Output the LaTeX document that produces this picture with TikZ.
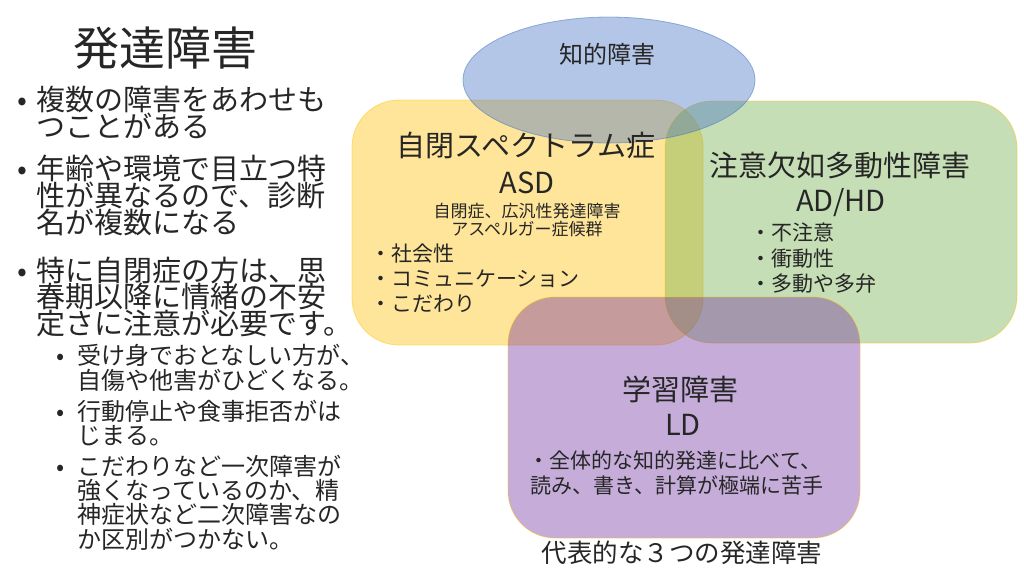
\documentclass[tikz,border=0pt]{standalone}
\usepackage{fontspec}
\setmainfont{Noto Sans CJK JP}
\usetikzlibrary{shapes.geometric}
\definecolor{txtc}{HTML}{262626}
\definecolor{ylw}{HTML}{FFC000}
\definecolor{grn}{HTML}{70AD47}
\definecolor{blu}{HTML}{4472C4}
\definecolor{prp}{HTML}{7030A0}
\tikzset{
  lt/.style={inner sep=0, anchor=west, text=txtc},
  ct/.style={inner sep=0, text=txtc},
  fA/.style={font=\fontsize{46}{46}\selectfont, text height=35pt, text depth=0pt},
  fB/.style={font=\fontsize{29}{29}\selectfont, text height=22pt, text depth=0pt},
  fC/.style={font=\fontsize{24}{24}\selectfont, text height=18.2pt, text depth=0pt},
  fD/.style={font=\fontsize{29}{29}\selectfont, text height=22pt, text depth=0pt},
  fE/.style={font=\fontsize{21}{21}\selectfont, text height=16pt, text depth=0pt},
  fF/.style={font=\fontsize{17}{17}\selectfont, text height=12.9pt, text depth=0pt},
  fG/.style={font=\fontsize{25.5}{25.5}\selectfont, text height=19.4pt, text depth=0pt},
  boxshape/.style={draw=ylw, draw opacity=0.45, line width=0.8pt, fill opacity=0.4, rounded corners=47pt, minimum width=#1, inner sep=0},
}
\begin{document}
\begin{tikzpicture}[x=1pt,y=-1pt]
\useasboundingbox[fill=white] (0,0) rectangle (1024,573);
% shapes
\node[boxshape=351pt, fill=ylw, minimum height=245pt] (asd) at (527.5,222.5) {};
\node[boxshape=352pt, fill=grn, minimum height=242pt] (adhd) at (841,222) {};
\node[ellipse, draw=blu, draw opacity=0.5, line width=0.8pt, fill=blu, fill opacity=0.4, minimum width=292pt, minimum height=126pt, inner sep=0] (id) at (609,80) {};
\node[boxshape=352pt, fill=prp, minimum height=241pt] (ld) at (684,417.5) {};
% left text
\node[ct, fA] (title) at (165,48) {発達障害};
\begin{scope}[every node/.append style={fB}]
\node[ct] (b1) at (22,99) {•};
\node[lt] (b1a) at (36,99) {複数の障害をあわせも};
\node[lt] (b1b) at (36,126.5) {つことがある};
\node[ct] (b2) at (22,168) {•};
\node[lt] (b2a) at (36,168) {年齢や環境で目立つ特};
\node[lt] (b2b) at (36,195) {性が異なるので、診断};
\node[lt] (b2c) at (36,222) {名が複数になる};
\node[ct] (b3) at (22,270) {•};
\node[lt] (b3a) at (36,270) {特に自閉症の方は、思};
\node[lt] (b3b) at (36,296.5) {春期以降に情緒の不安};
\node[lt] (b3c) at (36,323) {定さに注意が必要です。};
\end{scope}
\begin{scope}[every node/.append style={fC}]
\node[ct] (s1) at (61,355) {•};
\node[lt] (s1a) at (77,355) {受け身でおとなしい方が、};
\node[lt] (s1b) at (77,380) {自傷や他害がひどくなる。};
\node[ct] (s2) at (61,411) {•};
\node[lt] (s2a) at (77,411) {行動停止や食事拒否がは};
\node[lt] (s2b) at (77,435) {じまる。};
\node[ct] (s3) at (61,466) {•};
\node[lt] (s3a) at (77,466) {こだわりなど一次障害が};
\node[lt] (s3b) at (77,490) {強くなっているのか、精};
\node[lt] (s3c) at (77,514) {神症状など二次障害なの};
\node[lt] (s3d) at (77,539) {か区別がつかない。};
\end{scope}
% diagram text
\node[ct, fC] (idt) at (607,54) {知的障害};
\node[ct, fD] (asdt) at (526,145) {自閉スペクトラム症};
\node[ct, fD] (asde) at (527,182) {ASD};
\node[ct, fF] (asds1) at (527,211) {自閉症、広汎性発達障害};
\node[ct, fF] (asds2) at (527,229) {アスペルガー症候群};
\node[lt, fE] (asdl1) at (370,253) {・社会性};
\node[lt, fE] (asdl2) at (370,278) {・コミュニケーション};
\node[lt, fE] (asdl3) at (370,303) {・こだわり};
\node[ct, fD] (adhdt) at (840,165) {注意欠如多動性障害};
\node[ct, fD] (adhde) at (841,200) {AD/HD};
\node[lt, fE] (adhdl1) at (750,232) {・不注意};
\node[lt, fE] (adhdl2) at (750,258) {・衝動性};
\node[lt, fE] (adhdl3) at (750,283) {・多動や多弁};
\node[ct, fD] (ldt) at (680,389) {学習障害};
\node[ct, fD] (lde) at (683,424) {LD};
\node[ct, fE] (ldl1) at (675,460) {・全体的な知的発達に比べて、};
\node[ct, fE] (ldl2) at (677,485) {読み、書き、計算が極端に苦手};
\node[ct, fG] (cap) at (682,553) {代表的な３つの発達障害};
\end{tikzpicture}
\end{document}
